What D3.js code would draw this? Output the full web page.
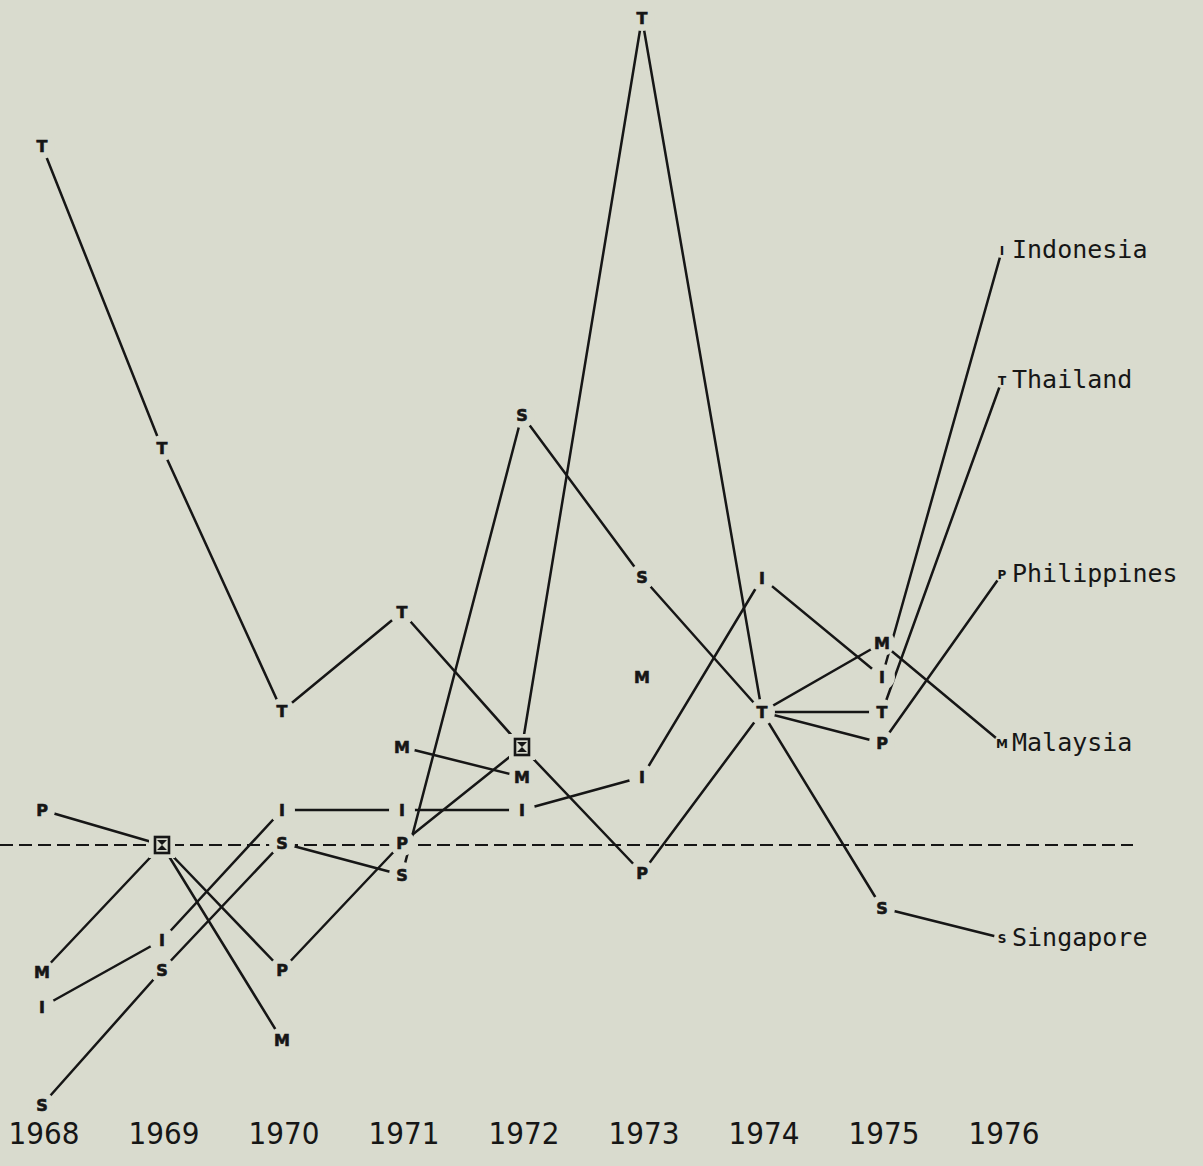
<!DOCTYPE html>
<html>
<head>
<meta charset="utf-8">
<script src="https://cdn.jsdelivr.net/npm/d3@7"></script>
<style>
  html, body { margin: 0; padding: 0; background: #d9dbce; }
  #chart { width: 1203px; height: 1166px; }
</style>
</head>
<body>
<div id="chart"></div>
<script>
// Years on the x axis
const years = [1968, 1969, 1970, 1971, 1972, 1973, 1974, 1975, 1976];

// Index values (100 = dashed reference line)
const indonesia   = [59.5, 76.25, 108.75, 108.75, 108.75, 117, 166.75, 142, 248.75];
const thailand    = [274.75, 199.25, 133.5, 158.25, 124.5, 306.75, 133.25, 133.25, 216.25];
const philippines = [108.75, 100, 68.75, 100.5, 124.5, 93, 133.25, 125.5, 167.75];
const malaysia    = [68.25, 100, 51.25, 124.5, 117, 142, 133.25, 150.5, 125.5];
const singapore   = [35, 68.75, 100.5, 92.5, 207.5, 167, 133.25, 84.25, 76.75];

// Series: name, marker letter, values, segments not drawn in the original
const series = [
  { name: 'Indonesia', mark: 'I', values: indonesia, gaps: [] },
  { name: 'Singapore', mark: 'S', values: singapore, gaps: [] },
  { name: 'Malaysia', mark: 'M', values: malaysia, gaps: [[1970, 1971], [1972, 1973], [1973, 1974]] },
  { name: 'Philippines', mark: 'P', values: philippines, gaps: [] },
  { name: 'Thailand', mark: 'T', values: thailand, gaps: [] }
];

// Points where two series coincide and the plotter printed a box
const boxYears = [1969, 1972];
const boxValues = [100, 124.5];

const baseline = 100;

const width = 1203;
const height = 1166;
const ink = '#161616';
const bg = '#d9dbce';

const svg = d3.select('#chart')
  .append('svg')
  .attr('width', width)
  .attr('height', height)
  .attr('viewBox', `0 0 ${width} ${height}`);

svg.append('rect')
  .attr('width', width)
  .attr('height', height)
  .attr('fill', bg);

// Scales
const x = d3.scaleLinear()
  .domain([1968, 1976])
  .range([42, 1002]);

const y = d3.scaleLinear()
  .domain([100, 300])
  .range([845, 45]);

// Dashed reference line
svg.append('line')
  .attr('x1', 0)
  .attr('x2', 1133)
  .attr('y1', y(baseline))
  .attr('y2', y(baseline))
  .attr('stroke', ink)
  .attr('stroke-width', 2.2)
  .attr('stroke-dasharray', '13,6');

// Line segments (year to year, skipping gaps)
const line = d3.line()
  .x(d => x(d.year))
  .y(d => y(d.value));

series.forEach(s => {
  const pts = years.map((yr, i) => ({ year: yr, value: s.values[i] }));
  for (let i = 0; i < pts.length - 1; i++) {
    const skip = s.gaps.some(g => g[0] === pts[i].year && g[1] === pts[i + 1].year);
    if (skip) continue;
    svg.append('path')
      .attr('d', line([pts[i], pts[i + 1]]))
      .attr('fill', 'none')
      .attr('stroke', ink)
      .attr('stroke-width', 2.5)
      .attr('stroke-linecap', 'round');
  }
});

// A letter is hidden when a box is printed there or a later series sits on the same spot
function hidden(si, i) {
  const v = series[si].values[i];
  const yr = years[i];
  if (boxYears.some((b, k) => b === yr && boxValues[k] === v)) return true;
  return series.slice(si + 1).some(o => o.values[i] === v);
}

// Markers (letters), with a background patch so lines stop short of them
series.forEach((s, si) => {
  const g = svg.append('g');
  const pts = years.slice(0, -1)
    .map((yr, i) => ({ year: yr, value: s.values[i], i }))
    .filter(d => !hidden(si, d.i));

  g.selectAll('circle')
    .data(pts)
    .enter()
    .append('circle')
    .attr('cx', d => x(d.year))
    .attr('cy', d => y(d.value))
    .attr('r', 13)
    .attr('fill', bg);

  g.selectAll('text')
    .data(pts)
    .enter()
    .append('text')
    .attr('x', d => x(d.year))
    .attr('y', d => y(d.value))
    .attr('dy', '0.36em')
    .attr('text-anchor', 'middle')
    .attr('font-family', 'DejaVu Sans, sans-serif')
    .attr('font-weight', 700)
    .attr('font-size', 16)
    .attr('stroke', ink)
    .attr('stroke-width', 0.6)
    .attr('fill', ink)
    .text(s.mark);
});

// Box markers where series overlap
boxYears.forEach((yr, i) => {
  const cx = x(yr);
  const cy = y(boxValues[i]);
  svg.append('rect')
    .attr('x', cx - 13)
    .attr('y', cy - 13)
    .attr('width', 26)
    .attr('height', 26)
    .attr('fill', bg);
  svg.append('rect')
    .attr('x', cx - 7)
    .attr('y', cy - 8)
    .attr('width', 14)
    .attr('height', 16)
    .attr('fill', 'none')
    .attr('stroke', ink)
    .attr('stroke-width', 2.6);
  svg.append('path')
    .attr('d', `M${cx - 5},${cy - 5} L${cx + 5},${cy - 5} L${cx},${cy} Z M${cx - 5},${cy + 5} L${cx + 5},${cy + 5} L${cx},${cy} Z`)
    .attr('fill', ink);
});

// End labels (1976)
const last = years.length - 1;
series.forEach(s => {
  const cx = x(years[last]);
  const cy = y(s.values[last]);
  svg.append('circle')
    .attr('cx', cx)
    .attr('cy', cy)
    .attr('r', 8)
    .attr('fill', bg);
  svg.append('text')
    .attr('x', cx)
    .attr('y', cy)
    .attr('dy', '0.4em')
    .attr('text-anchor', 'middle')
    .attr('font-family', 'DejaVu Sans, sans-serif')
    .attr('font-weight', 700)
    .attr('font-size', 12)
    .attr('fill', ink)
    .text(s.mark);
  svg.append('text')
    .attr('x', cx + 10)
    .attr('y', cy + 8)
    .attr('font-family', 'DejaVu Sans Mono, monospace')
    .attr('font-size', 25)
    .attr('fill', ink)
    .text(s.name);
});

// Year labels
svg.selectAll('.year')
  .data(years)
  .enter()
  .append('text')
  .attr('class', 'year')
  .attr('x', d => x(d) + 2)
  .attr('y', 1144)
  .attr('text-anchor', 'middle')
  .attr('font-family', 'Liberation Sans Narrow, DejaVu Sans Condensed, sans-serif')
  .attr('font-stretch', 'condensed')
  .attr('font-size', 31)
  .attr('fill', ink)
  .text(d => d);
</script>
</body>
</html>
